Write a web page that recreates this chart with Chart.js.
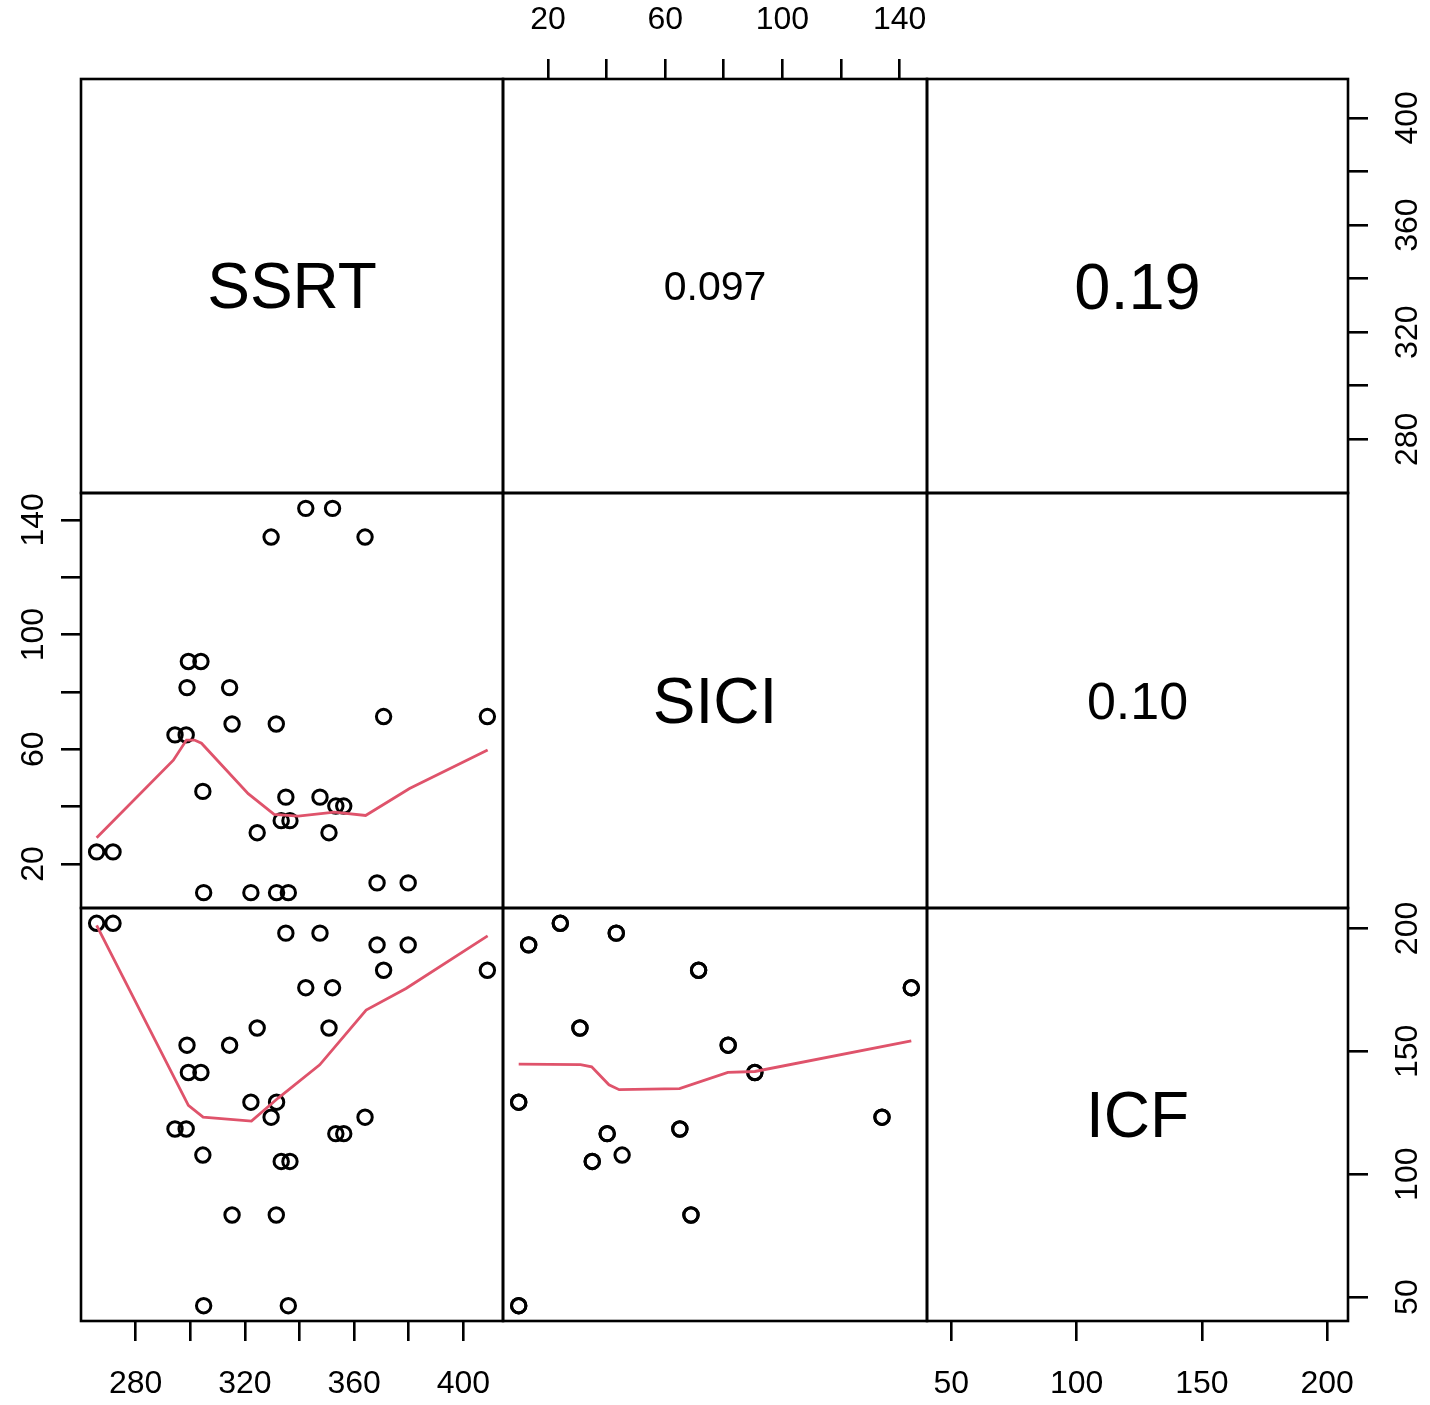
<!DOCTYPE html>
<html>
<head>
<meta charset="utf-8">
<script src="https://cdn.jsdelivr.net/npm/chart.js@4.4.0/dist/chart.umd.min.js"></script>
<style>
    html, body { margin: 0; padding: 0; background: #fff; }
    #page { position: relative; width: 1430px; height: 1405px; overflow: hidden; }
    .cell { position: absolute; }
    .lbl {
        position: absolute; display: flex; align-items: center; justify-content: center;
        font-family: "Liberation Sans", Arial, Helvetica, sans-serif; color: #000;
        line-height: 1; pointer-events: none;
    }
</style>
</head>
<body>
<div id="page"></div>
<script>
// variables, one value per subject
const varNames = ['SSRT', 'SICI', 'ICF'];
const ssrt = [265.7, 271.7, 294.4, 298.5, 298.8, 314.4, 299.3, 303.9, 304.6, 304.9, 335.9,
              315.3, 331.5, 322.2, 331.6, 324.5, 350.8, 329.6, 364.0, 333.3, 336.5, 335.0,
              347.5, 342.3, 352.1, 353.3, 356.2, 368.4, 379.8, 370.8, 408.8];
const sici = [24.2, 24.2, 65.0, 65.0, 81.5, 81.5, 90.6, 90.6, 45.3, 10.0, 10.0,
              68.8, 68.8, 10.0, 10.0, 30.9, 30.9, 134.0, 134.0, 35.1, 35.1, 43.3,
              43.3, 144.0, 144.0, 40.2, 40.2, 13.4, 13.4, 71.4, 71.4];
const icf  = [202.1, 202.1, 118.4, 118.4, 152.5, 152.5, 141.4, 141.4, 107.8, 46.5, 46.5,
              83.4, 83.4, 129.3, 129.3, 159.5, 159.5, 123.2, 123.2, 105.2, 105.2, 198.1,
              198.1, 175.9, 175.9, 116.5, 116.5, 193.3, 193.3, 183.0, 183.0];

// correlations shown in the upper panels: (SSRT,SICI) (SSRT,ICF) (SICI,ICF)
const corLabels = ['0.097', '0.19', '0.10'];

// axis ticks
const ssrtTicks = [280, 300, 320, 340, 360, 380, 400];
const ssrtTickLabels = ['280', '', '320', '', '360', '', '400'];
const siciTicks = [20, 40, 60, 80, 100, 120, 140];
const siciTickLabels = ['20', '', '60', '', '100', '', '140'];
const icfTicks = [50, 100, 150, 200];
const icfTickLabels = ['50', '100', '150', '200'];

// smoother lines
const smoothSiciOnSsrtX = [265.7, 293.8, 298.6, 301.5, 304.1, 321.2, 330.7, 339.5, 352.8, 364.2, 380.3, 408.9];
const smoothSiciOnSsrtY = [29.1, 56.2, 63.2, 63.2, 62.1, 44.5, 37.3, 36.7, 38.1, 36.9, 46.3, 59.7];
const smoothIcfOnSsrtX = [265.7, 299.3, 304.7, 322.4, 332.2, 347.4, 364.4, 379.0, 408.9];
const smoothIcfOnSsrtY = [201.3, 128.0, 123.2, 121.6, 131.0, 144.5, 166.8, 175.6, 197.0];
const smoothIcfOnSiciX = [10.0, 31.1, 34.9, 40.8, 44.3, 64.9, 81.4, 90.6, 144.0];
const smoothIcfOnSiciY = [144.8, 144.6, 143.7, 136.4, 134.4, 134.8, 141.4, 141.8, 154.3];

// layout / style
const FONT = '"Liberation Sans", Arial, Helvetica, sans-serif';
const colEdges = [81, 503, 927, 1348];
const rowEdges = [79, 493, 908, 1321];
const M = 90;
const TICK_LEN = 20;
const LINE_W = 2.6;
const diagFontSize = 64;
const corFontSizes = [41, 65, 52];

const vars = [
    { values: ssrt, ticks: ssrtTicks, labels: ssrtTickLabels },
    { values: sici, ticks: siciTicks, labels: siciTickLabels },
    { values: icf, ticks: icfTicks, labels: icfTickLabels }
];
const smooths = {
    '1,0': [smoothSiciOnSsrtX, smoothSiciOnSsrtY],
    '2,0': [smoothIcfOnSsrtX, smoothIcfOnSsrtY],
    '2,1': [smoothIcfOnSiciX, smoothIcfOnSiciY]
};

function extRange(v) {
    const lo = Math.min(...v), hi = Math.max(...v), p = (hi - lo) * 0.04;
    return [lo - p, hi + p];
}

function makeScale(v, isX, position, show, padding) {
    const [min, max] = extRange(v.values);
    return {
        type: 'linear', position: position, min: min, max: max, display: show,
        afterBuildTicks: s => { s.ticks = v.ticks.map(t => ({ value: t })); },
        afterFit: s => {
            const size = show ? M : 0;
            if (isX) s.height = size; else s.width = size;
        },
        ticks: {
            autoSkip: false, color: '#000', padding: padding,
            font: { family: FONT, size: 32 },
            minRotation: isX ? 0 : 90, maxRotation: isX ? 0 : 90,
            crossAlign: isX ? 'near' : 'center',
            callback: val => { const i = v.ticks.indexOf(val); return i < 0 ? '' : v.labels[i]; }
        },
        grid: { drawOnChartArea: false, drawTicks: true, tickLength: TICK_LEN, color: '#000', lineWidth: LINE_W },
        border: { display: false }
    };
}

const framePlugin = {
    id: 'frame',
    afterDraw(chart) {
        const a = chart.chartArea, ctx = chart.ctx;
        ctx.save();
        ctx.strokeStyle = '#000';
        ctx.lineWidth = LINE_W;
        ctx.strokeRect(a.left, a.top, a.right - a.left, a.bottom - a.top);
        ctx.restore();
    }
};

const page = document.getElementById('page');
const n = 3;
let corIdx = 0;

for (let r = 0; r < n; r++) {
    for (let c = 0; c < n; c++) {
        const left = colEdges[c], top = rowEdges[r];
        const w = colEdges[c + 1] - left, h = rowEdges[r + 1] - top;

        const hasTop = r === 0 && c % 2 === 1;
        const hasBottom = r === n - 1 && c % 2 === 0;
        const hasLeft = c === 0 && r % 2 === 1;
        const hasRight = c === n - 1 && r % 2 === 0;

        const cell = document.createElement('div');
        cell.className = 'cell';
        cell.style.left = (left - M) + 'px';
        cell.style.top = (top - M) + 'px';
        const canvas = document.createElement('canvas');
        canvas.width = w + 2 * M;
        canvas.height = h + 2 * M;
        cell.appendChild(canvas);
        page.appendChild(cell);

        const datasets = [];
        if (r > c) {
            const sm = smooths[r + ',' + c];
            datasets.push({
                type: 'line',
                data: sm[0].map((x, i) => ({ x: x, y: sm[1][i] })),
                borderColor: '#DF536B', borderWidth: 2.8, pointRadius: 0,
                fill: false, tension: 0
            });
            datasets.push({
                type: 'scatter',
                data: vars[c].values.map((x, i) => ({ x: x, y: vars[r].values[i] })),
                pointRadius: 7.2, pointBorderWidth: 3,
                pointBorderColor: '#000', pointBackgroundColor: 'rgba(0,0,0,0)'
            });
        }

        new Chart(canvas, {
            type: 'scatter',
            data: { datasets: datasets },
            options: {
                responsive: false,
                animation: false,
                events: [],
                layout: {
                    padding: {
                        left: hasLeft ? 0 : M, right: hasRight ? 0 : M,
                        top: hasTop ? 0 : M, bottom: hasBottom ? 0 : M
                    }
                },
                plugins: { legend: { display: false }, tooltip: { enabled: false } },
                scales: {
                    x: makeScale(vars[c], true, hasTop ? 'top' : 'bottom', hasTop || hasBottom, hasTop ? 20 : 24),
                    y: makeScale(vars[r], false, hasRight ? 'right' : 'left', hasLeft || hasRight, hasRight ? 13 : 0)
                }
            },
            plugins: [framePlugin]
        });

        if (r <= c) {
            const lbl = document.createElement('div');
            lbl.className = 'lbl';
            lbl.style.left = left + 'px';
            lbl.style.top = top + 'px';
            lbl.style.width = w + 'px';
            lbl.style.height = h + 'px';
            if (r === c) {
                lbl.textContent = varNames[r];
                lbl.style.fontSize = diagFontSize + 'px';
            } else {
                lbl.textContent = corLabels[corIdx];
                lbl.style.fontSize = corFontSizes[corIdx] + 'px';
                corIdx++;
            }
            page.appendChild(lbl);
        }
    }
}
</script>
</body>
</html>
